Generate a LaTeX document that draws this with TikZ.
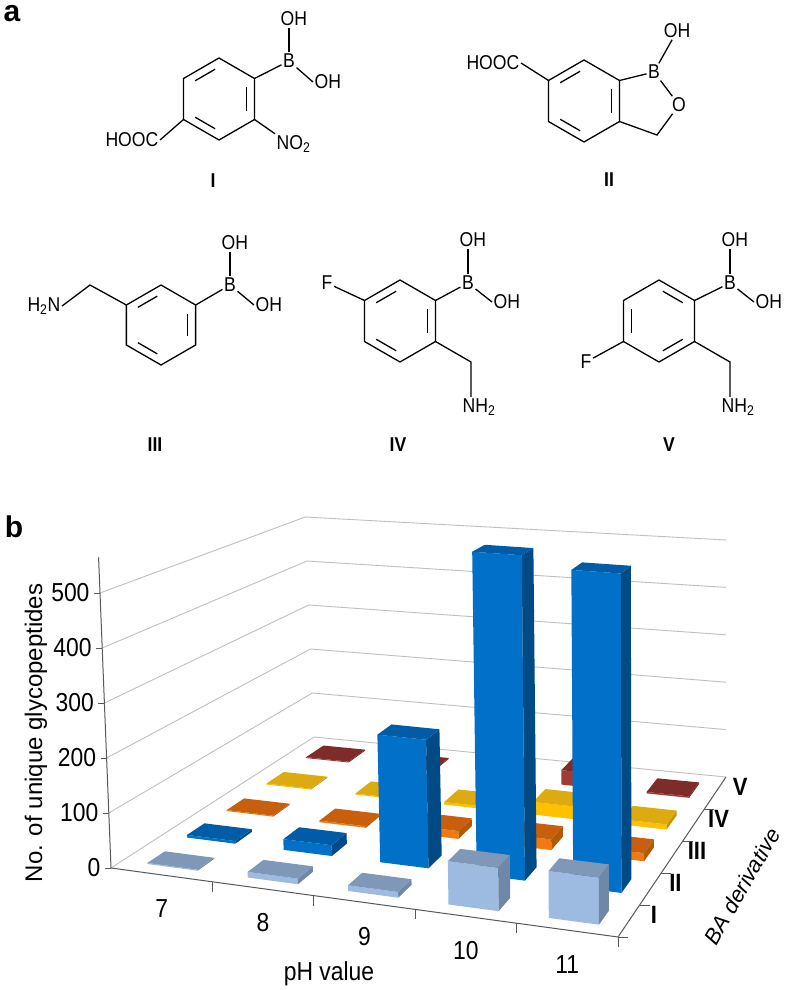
\documentclass[tikz,border=0pt]{standalone}
\usepackage{fontspec}
\setmainfont{Liberation Sans}
\newfontfamily\narrow[FakeStretch=0.88]{Liberation Sans}
\usetikzlibrary{calc}
\definecolor{gridc}{HTML}{BFBFBF}
\definecolor{axc}{HTML}{595959}
\definecolor{lbF}{HTML}{9DBBE0}\definecolor{lbS}{HTML}{6F88A8}\definecolor{lbT}{HTML}{8098B8}
\definecolor{bF}{HTML}{0070C8}\definecolor{bS}{HTML}{004A85}\definecolor{bT}{HTML}{005CA6}
\definecolor{oF}{HTML}{F07A10}\definecolor{oS}{HTML}{B05A08}\definecolor{oT}{HTML}{C85F0C}
\definecolor{yF}{HTML}{FFC000}\definecolor{yS}{HTML}{C89400}\definecolor{yT}{HTML}{DDAA10}
\definecolor{rF}{HTML}{A03A38}\definecolor{rS}{HTML}{702826}\definecolor{rT}{HTML}{7E2C2A}
\tikzset{bond/.style={line width=1.3pt,black},
  lab/.style={inner sep=1.5pt,font=\narrow\fontsize{20}{20}\selectfont},
  cname/.style={font=\narrow\bfseries\fontsize{20}{20}\selectfont},
  grid3/.style={gridc,line width=0.9pt},
  tick/.style={font=\narrow\fontsize{26}{26}\selectfont}}
\newcommand\hexring[4]{% name cx cy r
  \foreach \k/\a in {1/-90,2/-30,3/30,4/90,5/150,6/210}{\coordinate (#1\k) at ($(#2,#3)+(\a:#4)$);}
  \draw[bond] (#11)--(#12)--(#13)--(#14)--(#15)--(#16)--cycle;}
\newcommand\innerbond[5]{% cx cy a b r
  \pgfmathsetmacro\ixa{#1+#5*cos(#3)}\pgfmathsetmacro\iya{#2+#5*sin(#3)}
  \pgfmathsetmacro\ixb{#1+#5*cos(#4)}\pgfmathsetmacro\iyb{#2+#5*sin(#4)}
  \draw[bond] ($(\ixa,\iya)!0.14!(\ixb,\iyb)$) -- ($(\ixa,\iya)!0.86!(\ixb,\iyb)$);}
\newcommand\PP[4]{% name u v h
  \pgfmathsetmacro\xF{111+507*#2}\pgfmathsetmacro\yF{868+69*#2}
  \pgfmathsetmacro\xB{314+412*#2}\pgfmathsetmacro\yB{737+40*#2}
  \pgfmathsetmacro\mysc{((55+5*#2)*(1-#3)+(44+3.4*#2)*#3)/100}
  \pgfmathsetmacro\PX{\xF+(\xB-\xF)*#3-0.04*\mysc*#4*(1-#2)}
  \pgfmathsetmacro\PY{\yF+(\yB-\yF)*#3-\mysc*#4}
  \coordinate (#1) at (\PX,\PY);}
\newcommand\mybar[6]{% i j h front side top
  \pgfmathsetmacro\ua{(#1+0.25)/5}\pgfmathsetmacro\ub{(#1+0.75)/5}
  \pgfmathsetmacro\va{(#2+0.28)/5}\pgfmathsetmacro\vb{(#2+0.72)/5}
  \PP{ba}{\ua}{\va}{0}\PP{bb}{\ub}{\va}{0}\PP{bc}{\ub}{\va}{#3}\PP{bd}{\ua}{\va}{#3}
  \PP{be}{\ub}{\vb}{0}\PP{bf}{\ub}{\vb}{#3}\PP{bg}{\ua}{\vb}{#3}
  \fill[#4] (ba)--(bb)--(bc)--(bd)--cycle;
  \fill[#5] (bb)--(be)--(bf)--(bc)--cycle;
  \fill[#6] (bd)--(bc)--(bf)--(bg)--cycle;}
\begin{document}
\begin{tikzpicture}[x=1pt,y=-1pt]
\useasboundingbox (0,0) rectangle (789,990);
\fill[white] (0,0) rectangle (789,990);
\node[font=\bfseries\fontsize{30}{30}\selectfont] (pa) at (12,14) {a};
\node[font=\bfseries\fontsize{30}{30}\selectfont] (pb) at (14,527) {b};
% ---- I
\hexring{I}{219}{99}{41}
\innerbond{219}{99}{210}{270}{32}\innerbond{219}{99}{-30}{30}{32}\innerbond{219}{99}{90}{150}{32}
\node[lab] (IB) at (289,61) {B};
\node[lab,anchor=west] (IOa) at (279,19) {OH};
\node[lab,anchor=west] (IOb) at (313,82) {OH};
\node[lab,anchor=west] (IN) at (275,144) {NO\textsubscript{2}};
\node[lab,anchor=east] (IH) at (160,140) {HOOC};
\draw[bond] (I2)--(IB); \draw[bond] (IB)--(IB|-IOa.south); \draw[bond] (IB)--(IOb.west);
\draw[bond] (I3)--(IN.north west); \draw[bond] (I5)--(IH.east);
\node[cname] (nI) at (213,181) {I};
% ---- II
\hexring{II}{584}{101}{41}
\innerbond{584}{101}{210}{270}{32}\innerbond{584}{101}{-30}{30}{32}\innerbond{584}{101}{90}{150}{32}
\node[lab] (IIB) at (654,72) {B};
\node[lab] (IIOH) at (677,31) {OH};
\node[lab] (IIO) at (679,105) {O};
\coordinate (IIc) at (657,135);
\node[lab,anchor=east] (IIH) at (521,63) {HOOC};
\draw[bond] (II2)--(IIB); \draw[bond] (IIB)--(IIOH); \draw[bond] (IIB)--(IIO);
\draw[bond] (IIO)--(IIc)--(II3); \draw[bond] (II6)--(IIH.east);
\node[cname] (nII) at (609,180) {II};
% ---- III
\hexring{III}{161}{325}{40}
\innerbond{161}{325}{210}{270}{31}\innerbond{161}{325}{-30}{30}{31}\innerbond{161}{325}{90}{150}{31}
\node[lab] (IIIB) at (230,285) {B};
\node[lab,anchor=west] (IIIOa) at (220,243) {OH};
\node[lab,anchor=west] (IIIOb) at (254,305) {OH};
\coordinate (IIIc) at (90,285);
\node[lab,anchor=east] (IIIN) at (62,306) {H\textsubscript{2}N};
\draw[bond] (III2)--(IIIB); \draw[bond] (IIIB)--(IIIB|-IIIOa.south); \draw[bond] (IIIB)--(IIIOb.west);
\draw[bond] (III6)--(IIIc)--(IIIN.east);
\node[cname] (nIII) at (155,445) {III};
% ---- IV
\hexring{IV}{400}{321}{41}
\innerbond{400}{321}{210}{270}{32}\innerbond{400}{321}{-30}{30}{32}\innerbond{400}{321}{90}{150}{32}
\node[lab] (IVB) at (468,283) {B};
\node[lab,anchor=west] (IVOa) at (458,240) {OH};
\node[lab,anchor=west] (IVOb) at (492,302) {OH};
\node[lab] (IVF) at (327,283) {F};
\coordinate (IVc) at (471,362);
\node[lab,anchor=west] (IVN) at (461,407) {NH\textsubscript{2}};
\draw[bond] (IV2)--(IVB); \draw[bond] (IVB)--(IVB|-IVOa.south); \draw[bond] (IVB)--(IVOb.west);
\draw[bond] (IV6)--(IVF); \draw[bond] (IV3)--(IVc)--(IVc|-IVN.north);
\node[cname] (nIV) at (398,445) {IV};
% ---- V
\hexring{V}{659}{321}{41}
\innerbond{659}{321}{-90}{-30}{32}\innerbond{659}{321}{30}{90}{32}\innerbond{659}{321}{150}{210}{32}
\node[lab] (VB) at (730,283) {B};
\node[lab,anchor=west] (VOa) at (720,240) {OH};
\node[lab,anchor=west] (VOb) at (754,302) {OH};
\node[lab] (VF) at (586,362) {F};
\coordinate (Vc) at (730,362);
\node[lab,anchor=west] (VN) at (720,407) {NH\textsubscript{2}};
\draw[bond] (V2)--(VB); \draw[bond] (VB)--(VB|-VOa.south); \draw[bond] (VB)--(VOb.west);
\draw[bond] (V5)--(VF); \draw[bond] (V3)--(Vc)--(Vc|-VN.north);
\node[cname] (nV) at (669,445) {V};
% ---- chart grid
\foreach \h in {0,100,...,500}{
  \PP{gl}{0}{0}{\h}\PP{gb}{0}{1}{\h}\PP{gr}{1}{1}{\h}
  \draw[grid3] (gl)--(gb)--(gr);
  \draw[axc,line width=0.9pt] (gl)--++(-6,0);
  \node[tick,anchor=east] (t\h) at ($(gl)+(-7,0)$) {\h};}
\PP{O}{0}{0}{0}\PP{FR}{1}{0}{0}\PP{BR}{1}{1}{0}\PP{TopA}{0}{0}{565}
\draw[axc,line width=1pt] (O)--(TopA);
% bars: rows back to front
\mybar{0}{4}{2}{rF}{rS}{rT}\mybar{1}{4}{2}{rF}{rS}{rT}\mybar{2}{4}{2}{rF}{rS}{rT}\mybar{3}{4}{30}{rF}{rS}{rT}\mybar{4}{4}{3}{rF}{rS}{rT}
\mybar{0}{3}{2}{yF}{yS}{yT}\mybar{1}{3}{2}{yF}{yS}{yT}\mybar{2}{3}{5}{yF}{yS}{yT}\mybar{3}{3}{25}{yF}{yS}{yT}\mybar{4}{3}{10}{yF}{yS}{yT}
\mybar{0}{2}{2}{oF}{oS}{oT}\mybar{1}{2}{3}{oF}{oS}{oT}\mybar{2}{2}{15}{oF}{oS}{oT}\mybar{3}{2}{20}{oF}{oS}{oT}\mybar{4}{2}{15}{oF}{oS}{oT}
\mybar{0}{1}{5}{bF}{bS}{bT}\mybar{1}{1}{20}{bF}{bS}{bT}\mybar{2}{1}{235}{bF}{bS}{bT}\mybar{3}{1}{585}{bF}{bS}{bT}\mybar{4}{1}{565}{bF}{bS}{bT}
\mybar{0}{0}{2}{lbF}{lbS}{lbT}\mybar{1}{0}{10}{lbF}{lbS}{lbT}\mybar{2}{0}{10}{lbF}{lbS}{lbT}\mybar{3}{0}{75}{lbF}{lbS}{lbT}\mybar{4}{0}{80}{lbF}{lbS}{lbT}
% floor front and right edges
\draw[axc,line width=1pt] (O)--(FR)--(BR);
\foreach \i in {1,...,5}{\pgfmathsetmacro\uu{\i/5}\PP{tk}{\uu}{0}{0}\draw[axc,line width=0.9pt] (tk)--++(0,10);}
\foreach \j in {0,...,4}{\pgfmathsetmacro\vv{\j/5}\PP{tj}{1}{\vv}{0}\draw[axc,line width=0.9pt] (tj)--++(10,0);}
\foreach \i/\t in {0/7,1/8,2/9,3/10,4/11}{\pgfmathsetmacro\uu{(\i+0.5)/5}\PP{tc}{\uu}{0}{0}\node[tick] (x\i) at ($(tc)+(0,34)$) {\t};}
\node[tick] (xt) at (329,974) {pH value};
\node[font=\fontsize{24}{24}\selectfont,rotate=90] (yt) at (36,733) {No. of unique glycopeptides};
\foreach \j/\t in {0/I,1/II,2/III,3/IV,4/V}{\pgfmathsetmacro\vv{(\j+0.5)/5}\PP{tr}{1}{\vv}{0}\node[font=\narrow\bfseries\fontsize{25}{25}\selectfont] (r\j) at ($(tr)+(25,-6)$) {\t};}
\node[font=\itshape\fontsize{22}{22}\selectfont,rotate=60] (zt) at (742,886) {BA derivative};
\end{tikzpicture}
\end{document}
